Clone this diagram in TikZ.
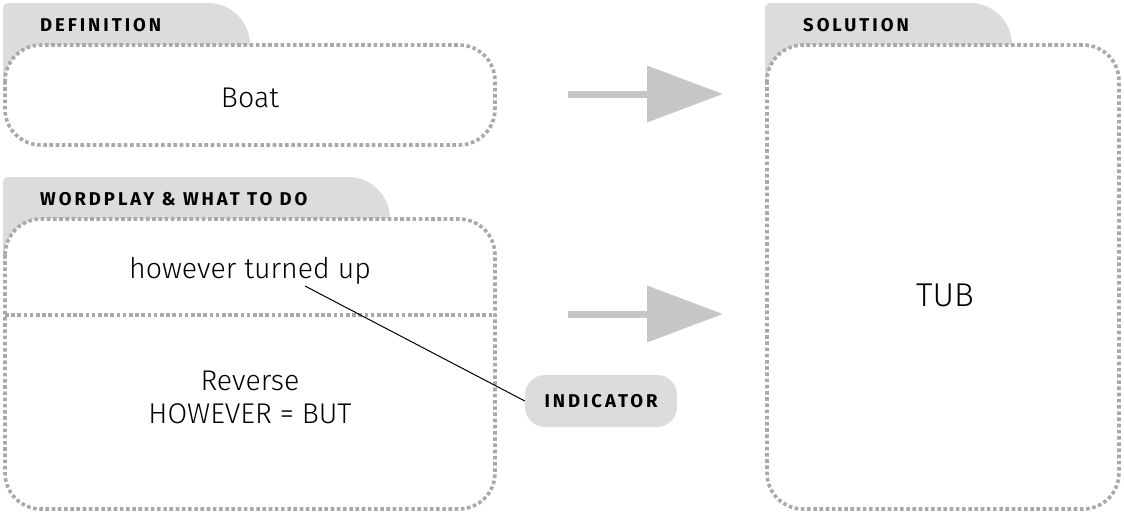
\documentclass[tikz,border=0pt]{standalone}
\usepackage{fontspec}
\setmainfont{Fira Sans Light}
\newfontfamily\labelfont[LetterSpace=16]{Fira Sans}
\usetikzlibrary{arrows.meta}
\definecolor{tabgrey}{HTML}{DCDCDD}
\definecolor{dotgrey}{HTML}{A9A9AA}
\definecolor{arrowgrey}{HTML}{C6C6C7}
\tikzset{
  boxline/.style={draw=dotgrey, line width=3.6pt, dash pattern=on 3.6pt off 2.6pt, rounded corners=36pt},
  tabfill/.style={fill=tabgrey},
  labelfnt/.style={font=\labelfont\bfseries\fontsize{18.5}{18.5}\selectfont},
  labeltext/.style={labelfnt, anchor=west, inner sep=0pt},
  bodytext/.style={inner sep=0pt, font=\fontsize{28.5}{33}\selectfont, align=center},
  bigarrow/.style={draw=arrowgrey, line width=7pt, -{Triangle[length=76pt,width=55pt]}},
  pill/.style={fill=tabgrey, rounded corners=20pt},
  leader/.style={draw=black, line width=1pt}
}
\begin{document}
\begin{tikzpicture}[x=1pt,y=-1pt]
\useasboundingbox (0,0) rectangle (1124,515);
% ---- Definition
\fill[tabfill] (3,85) [rounded corners=5pt] -- (3,3) [rounded corners=42pt] -- (250,3) [sharp corners] -- (250,85) -- cycle;
\fill[white, rounded corners=36pt] (5,45) rectangle (495,145);
\draw[boxline] (5,45) rectangle (495,145);
\node[labeltext] (deflabel) at (40,25) {DEFINITION};
\node[bodytext] (boat) at (250,98) {Boat};
% ---- Wordplay
\fill[tabfill] (3,260) [rounded corners=5pt] -- (3,177) [rounded corners=42pt] -- (390,177) [sharp corners] -- (390,260) -- cycle;
\fill[white, rounded corners=36pt] (5,219) rectangle (495,509);
\draw[boxline] (5,219) rectangle (495,509);
\draw[boxline, rounded corners=0pt] (5,315) -- (495,315);
\node[labeltext] (wplabel) at (40,199) {WORDPLAY \& WHAT TO DO};
\node[bodytext] (clue) at (250,271) {however turned up};
\node[bodytext] (what) at (250,397) {Reverse\\HOWEVER = BUT};
% ---- Solution
\fill[tabfill] (765,85) [rounded corners=5pt] -- (765,3) [rounded corners=42pt] -- (1012,3) [sharp corners] -- (1012,85) -- cycle;
\fill[white, rounded corners=36pt] (767,45) rectangle (1119,509);
\draw[boxline] (767,45) rectangle (1119,509);
\node[labeltext] (sollabel) at (803,25) {SOLUTION};
\node[bodytext, font=\fontsize{33}{33}\selectfont] (tub) at (945,295) {TUB};
% ---- Indicator
\node[pill, labelfnt, minimum width=152pt, minimum height=52pt, inner sep=0pt] (ind) at (601,401) {INDICATOR};
\coordinate (leadstart) at (305,286);
\draw[leader] (leadstart) -- (ind.west);
% ---- Arrows
\coordinate (a1s) at (568,94);
\coordinate (a1e) at (723,94);
\coordinate (a2s) at (568,314);
\coordinate (a2e) at (723,314);
\draw[bigarrow] (a1s) -- (a1e);
\draw[bigarrow] (a2s) -- (a2e);
\end{tikzpicture}
\end{document}
